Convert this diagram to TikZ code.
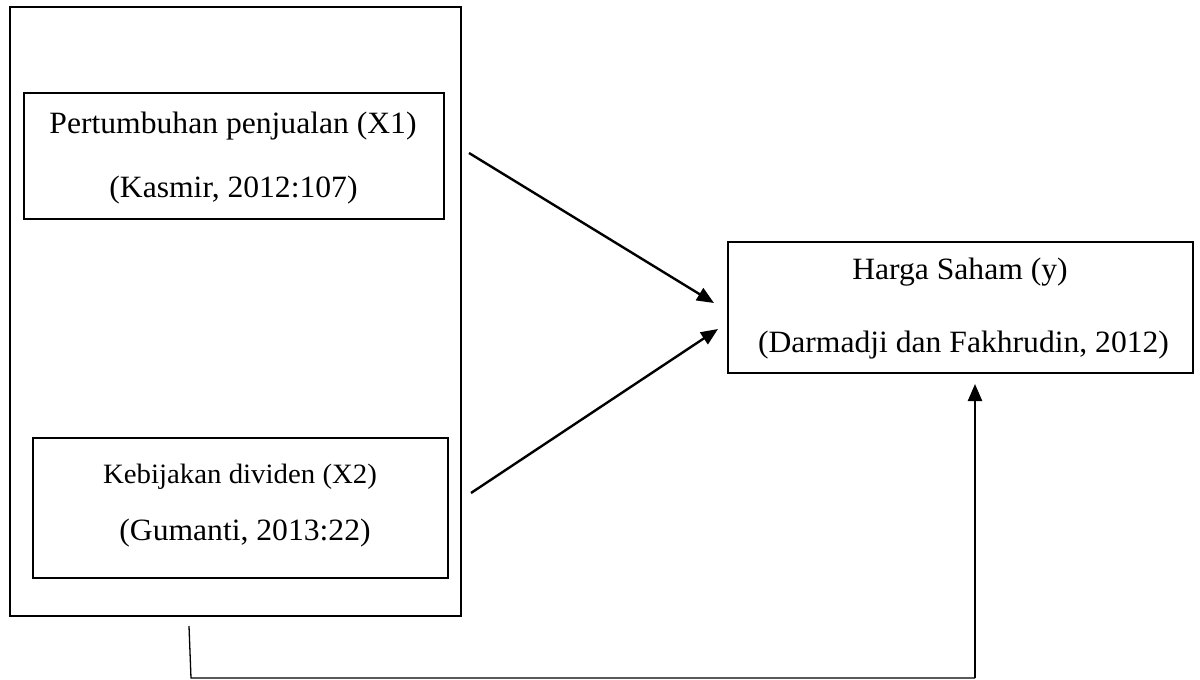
\documentclass[tikz,border=0pt]{standalone}
\usepackage{fontspec}
\setmainfont{Liberation Serif}
\usetikzlibrary{arrows.meta}
\begin{document}
\begin{tikzpicture}[x=1pt,y=-1pt,
  box/.style={draw, line width=2.4pt, minimum width=#1, inner sep=0pt},
  txt/.style={anchor=base, inner sep=0pt, font=\fontsize{31}{34}\selectfont},
  txts/.style={anchor=base, inner sep=0pt, font=\fontsize{28}{31}\selectfont},
  arr/.style={line width=2.4pt, -{Triangle[length=17pt,width=14pt]}},
  thinline/.style={line width=1.3pt}]
\useasboundingbox (0,0) rectangle (1200,680);
\fill[white] (0,0) rectangle (1200,680);
% boxes
\node[box=451pt, minimum height=609pt] (outer) at (235.5,311.5) {};
\node[box=420pt, minimum height=126pt] (b1) at (234,156) {};
\node[box=415pt, minimum height=140pt] (b2) at (240.5,508) {};
\node[box=465pt, minimum height=131pt] (y) at (960.5,307.5) {};
% texts
\node[txt] (t1a) at (233,133) {\scalebox{1.02}[1]{Pertumbuhan penjualan (X1)}};
\node[txt] (t1b) at (233.5,197) {\scalebox{1.02}[1]{(Kasmir, 2012:107)}};
\node[txts] (t2a) at (240,483) {\scalebox{1.03}[1]{Kebijakan dividen (X2)}};
\node[txt] (t2b) at (245,540) {\scalebox{1.02}[1]{(Gumanti, 2013:22)}};
\node[txt] (tya) at (960,279) {\scalebox{1.02}[1]{Harga Saham (y)}};
\node[txt] (tyb) at (963.5,352) {\scalebox{1.02}[1]{(Darmadji dan Fakhrudin, 2012)}};
% connector points
\coordinate (s1) at (469,153);
\coordinate (e1) at (714,303);
\coordinate (s2) at (471,493);
\coordinate (e2) at (718,329);
\coordinate (s3) at (189,626);
\coordinate (c3) at (191,678);
\coordinate (c4) at (975,678);
\coordinate (e3) at (975,384);
\draw[arr] (s1) -- (e1);
\draw[arr] (s2) -- (e2);
\draw[thinline] (s3) -- (c3) -- (c4);
\draw[arr] (c4) -- (e3);
\end{tikzpicture}
\end{document}
